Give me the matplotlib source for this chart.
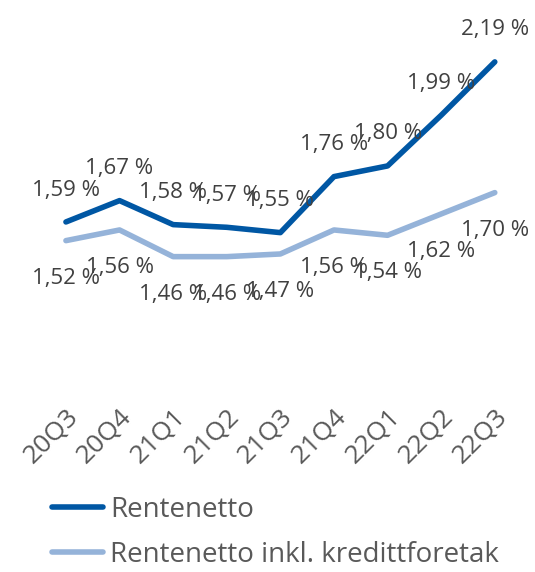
import matplotlib
matplotlib.use('Agg')
import matplotlib.pyplot as plt

quarters = ['20Q3', '20Q4', '21Q1', '21Q2', '21Q3', '21Q4', '22Q1', '22Q2', '22Q3']
rentenetto = [1.59, 1.67, 1.58, 1.57, 1.55, 1.76, 1.80, 1.99, 2.19]
rentenetto_inkl = [1.52, 1.56, 1.46, 1.46, 1.47, 1.56, 1.54, 1.62, 1.70]

dark = '#0057A4'
light = '#95B3D9'
text_col = '#404040'

plt.rcParams['font.family'] = ['Open Sans', 'DejaVu Sans']

fig = plt.figure(figsize=(5.35, 5.72), dpi=100)
ax = fig.add_axes([0, 172 / 572, 1, 400 / 572])

x = list(range(len(quarters)))
ax.plot(x, rentenetto, color=dark, lw=4, solid_capstyle='round', solid_joinstyle='round',
        label='Rentenetto')
ax.plot(x, rentenetto_inkl, color=light, lw=4, solid_capstyle='round', solid_joinstyle='round',
        label='Rentenetto inkl. kredittforetak')

def fmt(v):
    return f'{v:.2f} %'.replace('.', ',')

# data labels
for i, v in enumerate(rentenetto):
    ax.annotate(fmt(v), (i, v), xytext=(0, 23), textcoords='offset points',
                ha='center', va='center', fontsize=16, color=text_col)
for i, v in enumerate(rentenetto_inkl):
    ax.annotate(fmt(v), (i, v), xytext=(0, -27), textcoords='offset points',
                ha='center', va='center', fontsize=16, color=text_col)

ax.set_xlim(-1.23, 8.75)
ax.set_ylim(0.9226, 2.422)
ax.set_xticks(x)
ax.set_xticklabels(quarters, rotation=45, ha='right', rotation_mode='anchor',
                   fontsize=19, color='#595959')
ax.tick_params(axis='x', length=0, pad=3)
ax.set_yticks([])
for s in ax.spines.values():
    s.set_visible(False)

leg = fig.legend(loc='upper left', bbox_to_anchor=(52 / 535, 1 - 496 / 572), frameon=False,
                 fontsize=20, handlelength=1.85, handletextpad=0.25, labelspacing=0.6,
                 borderaxespad=0, borderpad=0, labelcolor='#595959')
for line in leg.get_lines():
    line.set_linewidth(4)
    line.set_solid_capstyle('round')

fig.savefig('out.png', dpi=100)
